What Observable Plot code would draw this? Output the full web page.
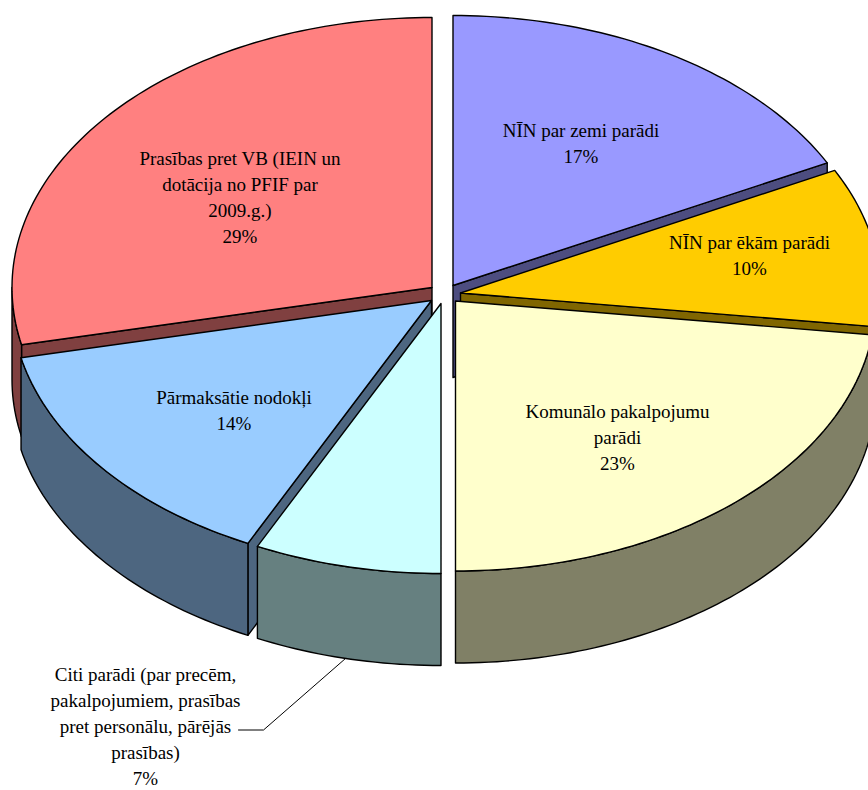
<!DOCTYPE html>
<html>
<head>
<meta charset="utf-8">
<style>
html,body{margin:0;padding:0;background:#fff;}
svg{display:block;}
</style>
<script src="https://cdn.jsdelivr.net/npm/d3@7"></script>
<script src="https://cdn.jsdelivr.net/npm/@observablehq/plot@0.6"></script>
</head>
<body>
<div id="chart"></div>
<script>
const categories = [
  "NĪN par zemi parādi",
  "NĪN par ēkām parādi",
  "Komunālo pakalpojumu\nparādi",
  "Citi parādi (par precēm,\npakalpojumiem, prasības\npret personālu, pārējās\nprasības)",
  "Pārmaksātie nodokļi",
  "Prasības pret VB (IEIN un\ndotācija no PFIF par\n2009.g.)"
];
const shares = [17.5, 9.5, 23, 7.2, 14.4, 28.4];
const percentLabels = ["17%", "10%", "23%", "7%", "14%", "29%"];
const topColors = ["#9999FF", "#FFCC00", "#FFFFCC", "#CCFFFF", "#99CCFF", "#FF8080"];
const sideColors = ["#4D4D80", "#806600", "#808066", "#668080", "#4D6680", "#804040"];

// exploded slice centres, in the chart's 868x790 frame
const apexX = [452.5, 460, 455, 440.5, 431, 431.5];
const apexY = [285, 292.5, 300.5, 303, 300, 287];
const labelX = [580.5, 749, 617, 145, 233.5, 239.5];
const labelY = [141, 253.5, 435.5, 724.5, 408.5, 195];
const drawOrder = [0, 1, 5, 4, 3, 2];

const radiusX = 420, radiusY = 270, depth = 92;

const ends = d3.cumsum(shares);
const total = ends[ends.length - 1];
const tau = 2 * Math.PI;

function ellipsePoint(i, t) {
  return {x: apexX[i] + radiusX * Math.sin(t), y: apexY[i] - radiusY * Math.cos(t)};
}
function arcPoints(i, start, stop) {
  const n = Math.max(2, Math.ceil((stop - start) / 0.02));
  return d3.range(n + 1).map(k => ellipsePoint(i, start + (stop - start) * k / n));
}
const lowered = p => ({x: p.x, y: p.y + depth});

function face(points, fill) {
  return Plot.line(points, {x: "x", y: "y", fill, stroke: "#000", strokeWidth: 1.4, curve: "linear-closed", strokeLinejoin: "round"});
}

const marks = [];
for (const i of drawOrder) {
  const start = (i ? ends[i - 1] : 0) / total * tau;
  const stop = ends[i] / total * tau;
  const apex = {x: apexX[i], y: apexY[i]};

  // cut face at the start of the slice shows when it looks downward
  if (Math.sin(start) < -1e-6) {
    const p = ellipsePoint(i, start);
    marks.push(face([apex, p, lowered(p), lowered(apex)], sideColors[i]));
  }
  // cut face at the end of the slice
  if (Math.sin(stop) > 1e-6) {
    const p = ellipsePoint(i, stop);
    marks.push(face([apex, p, lowered(p), lowered(apex)], sideColors[i]));
  }
  // outer rim: only the front half of the ellipse faces the viewer
  const a = Math.max(start, tau / 4), b = Math.min(stop, 3 * tau / 4);
  if (b > a) {
    const rim = arcPoints(i, a, b);
    marks.push(face([...rim, ...rim.map(lowered).reverse()], sideColors[i]));
  }
  // top face
  marks.push(face([apex, ...arcPoints(i, start, stop)], topColors[i]));
}

const leader = [{x: 238, y: 729.5}, {x: 263, y: 729.5}, {x: 345, y: 658}];
marks.push(Plot.line(leader, {x: "x", y: "y", stroke: "#000", strokeWidth: 1}));

const labels = categories.map((c, i) => ({text: c + "\n" + percentLabels[i], x: labelX[i], y: labelY[i]}));
marks.push(Plot.text(labels, {
  x: "x", y: "y", text: "text",
  textAnchor: "middle", lineAnchor: "middle", lineHeight: 1.365,
  fontFamily: "Liberation Serif", fontSize: 19, fill: "#000"
}));

const chart = Plot.plot({
  width: 868,
  height: 790,
  margin: 0,
  style: {background: "#fff", overflow: "hidden"},
  x: {domain: [0, 868], range: [0, 868], axis: null},
  y: {domain: [0, 790], range: [0, 790], axis: null},
  marks
});
document.getElementById("chart").appendChild(chart);
</script>
</body>
</html>
